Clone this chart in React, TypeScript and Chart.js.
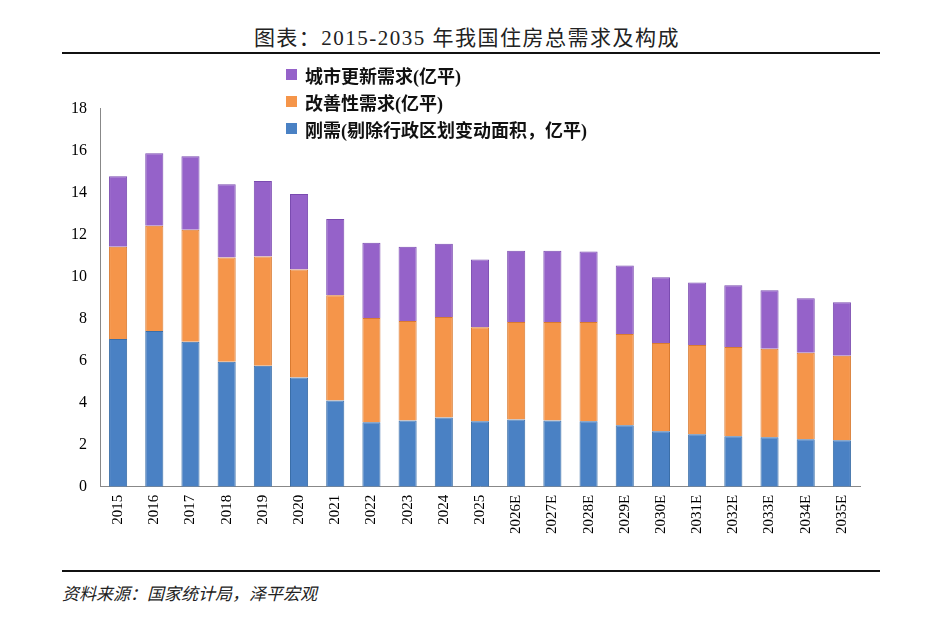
import React, { useEffect, useRef } from "react";
import { Chart, registerables } from "chart.js";
Chart.register(...registerables);

const categories = ["2015","2016","2017","2018","2019","2020","2021","2022","2023","2024","2025","2026E","2027E","2028E","2029E","2030E","2031E","2032E","2033E","2034E","2035E"];
const rigid = [7.04,7.42,6.9,5.95,5.76,5.2,4.11,3.07,3.16,3.3,3.12,3.21,3.16,3.12,2.93,2.65,2.5,2.41,2.36,2.27,2.22];
const improveTop = [11.43,12.42,12.23,10.91,10.96,10.34,9.12,8.03,7.89,8.08,7.6,7.84,7.84,7.84,7.27,6.85,6.75,6.66,6.57,6.38,6.24];
const totalTop = [14.78,15.87,15.73,14.4,14.55,13.93,12.75,11.62,11.43,11.57,10.82,11.24,11.24,11.2,10.53,9.97,9.73,9.59,9.35,8.97,8.79];
const improve = improveTop.map((v, i) => +(v - rigid[i]).toFixed(2));
const renewal = totalTop.map((v, i) => +(v - improveTop[i]).toFixed(2));

const serif = "'Liberation Serif', 'Times New Roman', serif";
const cjk = "'Liberation Serif', 'Noto Sans CJK SC', serif";

export default function App() {
  const ref = useRef<HTMLCanvasElement>(null);
  useEffect(() => {
    const chart = new Chart(ref.current!, {
      type: "bar",
      data: {
        labels: categories,
        datasets: [
          { label: "刚需", data: rigid, backgroundColor: "#4a81c4", borderColor: "#3a6ea8", borderWidth: 1 },
          { label: "改善性需求", data: improve, backgroundColor: "#f5954a", borderColor: "#d97a30", borderWidth: 1 },
          { label: "城市更新需求", data: renewal, backgroundColor: "#9562c9", borderColor: "#7a4bb0", borderWidth: 1 },
        ],
      },
      options: {
        animation: false,
        responsive: false,
        maintainAspectRatio: false,
        layout: { padding: { left: 0, right: 10, top: 5, bottom: 0 } },
        plugins: { legend: { display: false }, tooltip: { enabled: false } },
        datasets: { bar: { categoryPercentage: 1, barPercentage: 0.5 } },
        scales: {
          x: {
            stacked: true,
            grid: { display: false, drawTicks: true, tickLength: 5, color: "#888" },
            border: { color: "#888" },
            ticks: { color: "#000", font: { family: serif, size: 15 }, maxRotation: 90, minRotation: 90 },
          },
          y: {
            stacked: true,
            min: 0, max: 18,
            afterFit: (s: any) => { s.width = 40; },
            grid: { display: false, tickLength: 5, color: "#888" },
            border: { color: "#888" },
            ticks: { stepSize: 2, color: "#000", font: { family: serif, size: 16 }, padding: 8 },
          },
        },
      },
    });
    return () => chart.destroy();
  }, []);

  const legendItem = (color: string, text: string) => (
    <div style={{ display: "flex", alignItems: "center", height: 27 }}>
      <div style={{ width: 11, height: 11, background: color, marginRight: 8 }} />
      <span>{text}</span>
    </div>
  );

  return (
    <div style={{ position: "fixed", left: 0, top: 0, width: 934, height: 619, background: "#fff" }}>
      <div style={{ position: "absolute", top: 21, left: 0, width: 934, textAlign: "center", fontFamily: cjk, fontSize: 21, color: "#222", letterSpacing: 1.5 }}>
        图表：2015-2035 年我国住房总需求及构成
      </div>
      <div style={{ position: "absolute", top: 52, left: 62, width: 818, height: 2, background: "#111" }} />
      <canvas ref={ref} width={810} height={446} style={{ position: "absolute", left: 60, top: 91 }} />
      <div style={{ position: "absolute", left: 286, top: 61, fontFamily: cjk, fontSize: 18, fontWeight: "bold", color: "#111" }}>
        {legendItem("#9562c9", "城市更新需求(亿平)")}
        {legendItem("#f5954a", "改善性需求(亿平)")}
        {legendItem("#4a81c4", "刚需(剔除行政区划变动面积，亿平)")}
      </div>
      <div style={{ position: "absolute", top: 570, left: 62, width: 818, height: 2, background: "#111" }} />
      <div style={{ position: "absolute", top: 580, left: 62, fontFamily: "'Noto Sans CJK SC', sans-serif", fontStyle: "italic", fontSize: 17, color: "#222" }}>
        资料来源：国家统计局，泽平宏观
      </div>
    </div>
  );
}
